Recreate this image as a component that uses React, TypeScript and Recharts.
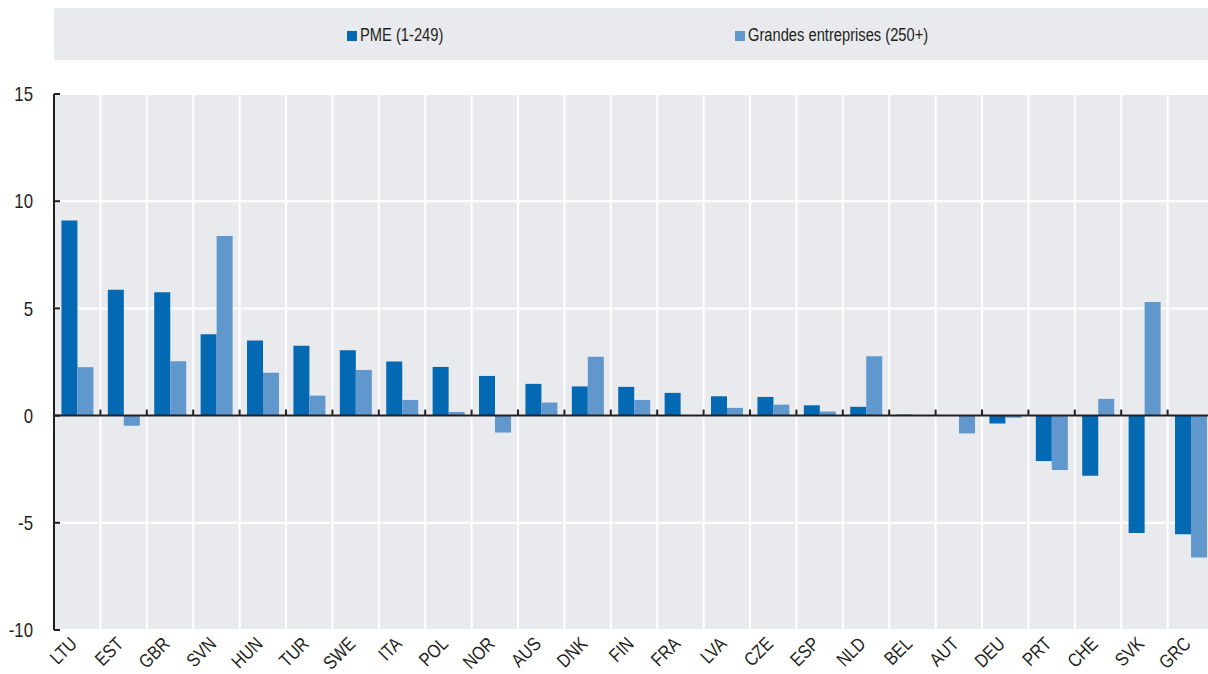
import React from "react";
import { BarChart, Bar, XAxis, YAxis, CartesianGrid, ReferenceLine } from "recharts";

const countries = [
  "LTU", "EST", "GBR", "SVN", "HUN", "TUR", "SWE", "ITA", "POL", "NOR", "AUS", "DNK", "FIN",
  "FRA", "LVA", "CZE", "ESP", "NLD", "BEL", "AUT", "DEU", "PRT", "CHE", "SVK", "GRC",
];
const pme = [
  9.1, 5.87, 5.75, 3.8, 3.5, 3.26, 3.05, 2.52, 2.27, 1.85, 1.48, 1.36, 1.34,
  1.06, 0.9, 0.87, 0.48, 0.41, 0.05, 0, -0.37, -2.12, -2.8, -5.47, -5.53,
];
const grandes = [
  2.26, -0.47, 2.53, 8.38, 2.0, 0.93, 2.13, 0.73, 0.17, -0.79, 0.61, 2.74, 0.73,
  0, 0.36, 0.51, 0.19, 2.77, 0, -0.83, -0.1, -2.54, 0.78, 5.3, -6.62,
];
const yTicks = [-10, -5, 0, 5, 10, 15];
const seriesNames = ["PME (1-249)", "Grandes entreprises (250+)"];

const DARK = "#0269b2";
const LIGHT = "#6098ce";
const BG = "#e9eaed";
const INK = "#231f20";
const FONT = "'Liberation Sans Narrow', 'Arial Narrow', 'Liberation Sans', Arial, sans-serif";
const NARROW = 0.84; // no narrow font installed, so squeeze text horizontally

const data = countries.map((c, i) => ({ country: c, pme: pme[i], grandes: grandes[i] }));

const YTick = ({ x, y, payload }: any) => (
  <g>
    <line x1={x} x2={x + 6} y1={y} y2={y} stroke={INK} strokeWidth={2} />
    <text
      transform={`translate(${x - 21}, ${y}) scale(${NARROW}, 1)`}
      dy="0.36em"
      textAnchor="end"
      fontSize={20}
      fill={INK}
      fontFamily={FONT}
    >
      {payload.value}
    </text>
  </g>
);

const XTick = ({ x, y, payload }: any) => (
  <text
    transform={`translate(${x + 1}, ${y + 15}) rotate(-45) scale(${NARROW}, 1)`}
    textAnchor="end"
    fontSize={19}
    fill={INK}
    fontFamily={FONT}
  >
    {payload.value}
  </text>
);

// zero line with small upward ticks at category boundaries
const ZeroLine = (props: any) => {
  const { x1, x2, y1 } = props;
  const band = (x2 - x1) / countries.length;
  return (
    <g>
      <line x1={x1} x2={x2} y1={y1} y2={y1} stroke={INK} strokeWidth={2} />
      {countries.slice(1).map((c, i) => (
        <line
          key={c}
          x1={x1 + band * (i + 1)}
          x2={x1 + band * (i + 1)}
          y1={y1}
          y2={y1 - 6}
          stroke={INK}
          strokeWidth={2}
        />
      ))}
    </g>
  );
};

export default function App() {
  return (
    <div
      style={{
        position: "absolute",
        left: 0,
        top: 0,
        width: 1208,
        height: 674,
        overflow: "hidden",
        background: "#fff",
        fontFamily: FONT,
      }}
    >
      <div
        style={{
          position: "absolute",
          left: 54,
          top: 8,
          width: 1154,
          height: 52,
          background: BG,
        }}
      >
        {seriesNames.map((name, i) => (
          <div
            key={name}
            style={{
              position: "absolute",
              left: i === 0 ? 293 : 681,
              top: 17,
              display: "flex",
              alignItems: "center",
              fontSize: 17.5,
              color: INK,
              whiteSpace: "nowrap",
            }}
          >
            <span
              style={{
                display: "inline-block",
                width: 10,
                height: 10,
                marginRight: 3,
                background: i === 0 ? DARK : LIGHT,
              }}
            />
            <span style={{ display: "inline-block", transform: `scaleX(${NARROW})`, transformOrigin: "left center" }}>
              {name}
            </span>
          </div>
        ))}
      </div>
      <BarChart
        width={1214}
        height={674}
        data={data}
        margin={{ top: 94, right: 0, bottom: 0, left: 0 }}
        barCategoryGap="16%"
        barGap={0}
      >
        <CartesianGrid
          fill={BG}
          stroke="#fff"
          strokeWidth={2}
          verticalCoordinatesGenerator={({ offset }: any) =>
            countries.slice(1).map((_, i) => offset.left + ((i + 1) * offset.width) / countries.length)
          }
        />
        <XAxis
          dataKey="country"
          interval={0}
          axisLine={false}
          tickLine={false}
          tickSize={0}
          tickMargin={0}
          height={44}
          tick={<XTick />}
        />
        <YAxis
          domain={[-10, 15]}
          ticks={yTicks}
          width={54}
          axisLine={{ stroke: INK, strokeWidth: 2 }}
          tickLine={false}
          tickSize={0}
          tickMargin={0}
          tick={<YTick />}
          allowDataOverflow
        />
        <Bar dataKey="pme" name={seriesNames[0]} fill={DARK} isAnimationActive={false} />
        <Bar dataKey="grandes" name={seriesNames[1]} fill={LIGHT} isAnimationActive={false} />
        <ReferenceLine y={0} shape={<ZeroLine />} ifOverflow="visible" />
      </BarChart>
    </div>
  );
}
